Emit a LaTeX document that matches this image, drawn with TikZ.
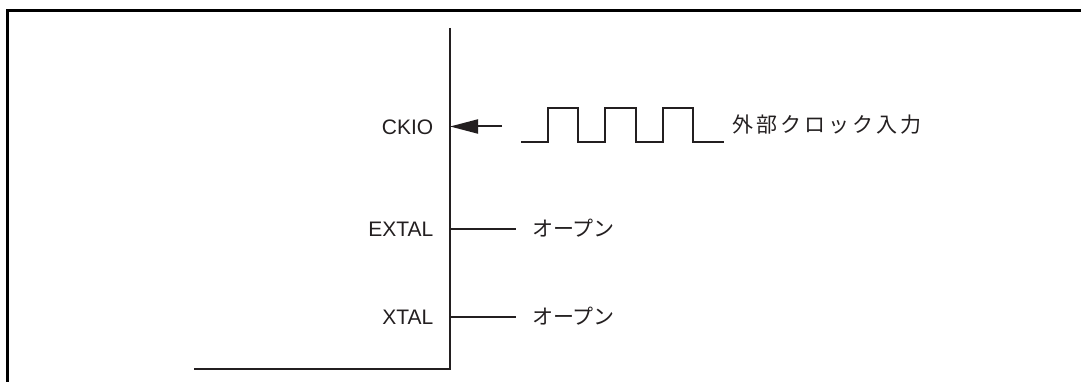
\documentclass[tikz,border=0pt]{standalone}
\usepackage{fontspec}
\setmainfont{Liberation Sans}
\newfontfamily\jp{Noto Sans CJK JP}
\usetikzlibrary{arrows.meta}
\definecolor{ink}{HTML}{231F20}
\tikzset{
  frame/.style={line width=2.2pt, black},
  wire/.style={line width=2pt, ink},
  thin/.style={line width=1.3pt, ink},
  pinlabel/.style={anchor=east, inner sep=0pt, font=\fontsize{21}{25}\selectfont, text=ink},
  note/.style={anchor=west, inner sep=0pt, font=\jp\fontsize{21}{25}\selectfont, text=ink},
}
\begin{document}
\begin{tikzpicture}[x=1pt, y=-1pt]
\useasboundingbox (0,0) rectangle (1081,382);
% outer frame (open at right and bottom)
\draw[frame] (7.5,382) -- (7.5,10.5) -- (1081,10.5);
% chip outline: pin edge and bottom edge
\coordinate (chiptop) at (450,28);
\coordinate (chipcorner) at (450,369);
\coordinate (chipleft) at (194,369);
\draw[wire] (chiptop) -- (chipcorner) -- (chipleft);
% pins
\coordinate (ckio) at (450,126.5);
\coordinate (extal) at (450,229);
\coordinate (xtal) at (450,317);
\node[pinlabel] (lckio) at (433.5,127) {CKIO};
\node[pinlabel] (lextal) at (433.5,229) {EXTAL};
\node[pinlabel] (lxtal) at (433.5,317) {XTAL};
% external clock input
\coordinate (arrtail) at (502,126.5);
\draw[wire, -{Triangle[length=28pt,width=14pt]}] (arrtail) -- (ckio);
\coordinate (wavestart) at (521,142);
\draw[wire] (wavestart) -- (548,142) -- (548,108) -- (578,108) -- (578,142)
  -- (605,142) -- (605,108) -- (636,108) -- (636,142)
  -- (663,142) -- (663,108) -- (693,108) -- (693,142) -- (724,142) coordinate (waveend);
\node[note] (clk) at (732,124.5) {外\kern3pt部\kern3ptク\kern3ptロ\kern3ptッ\kern3ptク\kern3pt入\kern3pt力};
% open pins
\node[note] (oextal) at (532,228) {オープン};
\node[note] (oxtal) at (532,316) {オープン};
\draw[thin] (extal) -- (516,229) coordinate (extalend);
\draw[thin] (xtal) -- (516,317) coordinate (xtalend);
\end{tikzpicture}
\end{document}
